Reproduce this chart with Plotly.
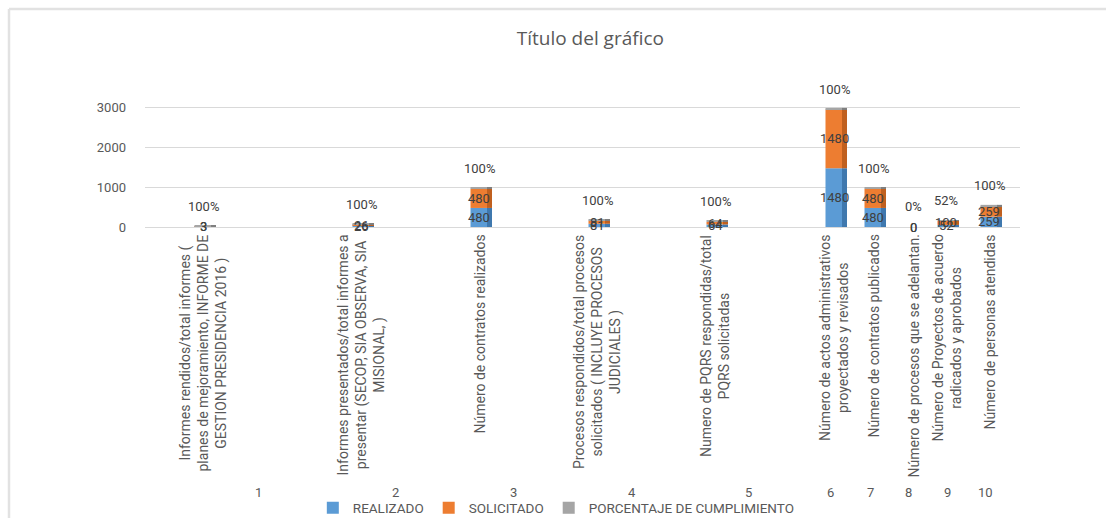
import plotly.graph_objects as go

# ---------------- data ----------------
categories = [
    "Informes rendidos/total informes (<br>planes de mejoramiento, INFORME DE<br>GESTION PRESIDENCIA 2016 )",
    "Informes presentados/total informes a<br>presentar (SECOP, SIA OBSERVA, SIA<br>MISIONAL, )",
    "Número de contratos realizados",
    "Procesos respondidos/total procesos<br>solicitados ( INCLUYE PROCESOS<br>JUDICIALES )",
    "Numero de PQRS respondidas/total<br>PQRS solicitadas",
    "Número de actos administrativos<br>proyectados y revisados",
    "Número de contratos publicados",
    "Número de procesos que se adelantan.",
    "Número de Proyectos de acuerdo<br>radicados y aprobados",
    "Número de personas atendidas",
]
group_labels = ["1", "2", "3", "4", "5", "6", "7", "8", "9", "10"]
realizado = [3, 26, 480, 81, 64, 1480, 480, 0, 52, 259]
solicitado = [3, 26, 480, 81, 64, 1480, 480, 0, 100, 259]
porcentaje = [1.00, 1.00, 1.00, 1.00, 1.00, 1.00, 1.00, 0.00, 0.52, 1.00]
y_ticks = [0, 1000, 2000, 3000]

# ---------------- layout helpers (pixel geometry) ----------------
W, H = 1106, 518
PLOT_L, PLOT_R = 145, 1020
PLOT_T, PLOT_B = 96, 227
Y_MAX = 3300
cat_pos_px = [203, 361, 479, 597, 715, 834, 873, 913, 946, 989]
group_pos_px = [258, 395, 513, 632, 748, 830, 870, 908, 947, 985]
x_pos = [p - PLOT_L for p in cat_pos_px]
FRONT_W = 17
SIDE_W = 5

def px2paper_x(px):
    return (px - PLOT_L) / (PLOT_R - PLOT_L)

def px2paper_y(py):
    return (PLOT_B - py) / (PLOT_B - PLOT_T)

TXT = "#595959"
LBL = "#404040"
BLUE, BLUE_D = "#5b9bd5", "#3f78ae"
ORANGE, ORANGE_D = "#ed7d31", "#c0601f"
GRAY, GRAY_D = "#a5a5a5", "#7f7f7f"

fig = go.Figure()
tot = [r + s for r, s in zip(realizado, solicitado)]
cap = [p * 40 for p in porcentaje]

# front faces
fig.add_trace(go.Bar(x=x_pos, y=realizado, name="REALIZADO", marker_color=BLUE,
                     width=FRONT_W, offset=-FRONT_W / 2, hoverinfo="y"))
fig.add_trace(go.Bar(x=x_pos, y=solicitado, base=realizado, name="SOLICITADO",
                     marker_color=ORANGE, width=FRONT_W, offset=-FRONT_W / 2,
                     hoverinfo="y"))
fig.add_trace(go.Bar(x=x_pos, y=cap, base=tot,
                     name="PORCENTAJE DE CUMPLIMIENTO", marker_color=GRAY,
                     width=FRONT_W, offset=-FRONT_W / 2,
                     customdata=porcentaje, hovertemplate="%{customdata:.0%}<extra></extra>"))
# side faces (3D depth effect)
side_off = FRONT_W / 2 - 0.5
fig.add_trace(go.Bar(x=x_pos, y=realizado, marker_color=BLUE_D, width=SIDE_W,
                     offset=side_off, showlegend=False, hoverinfo="skip"))
fig.add_trace(go.Bar(x=x_pos, y=solicitado, base=realizado, marker_color=ORANGE_D,
                     width=SIDE_W, offset=side_off, showlegend=False, hoverinfo="skip"))
fig.add_trace(go.Bar(x=x_pos, y=cap, base=tot,
                     marker_color=GRAY_D, width=SIDE_W, offset=side_off,
                     showlegend=False, hoverinfo="skip"))

for tr in fig.data:
    tr.marker.line.width = 0

annotations = []
lbl_font = dict(family="Roboto, sans-serif", size=13, color=LBL)
for xp, r, s, p in zip(x_pos, realizado, solicitado, porcentaje):
    annotations.append(dict(x=xp, y=r / 2, xref="x", yref="y", text=str(r),
                            showarrow=False, font=lbl_font, yanchor="middle"))
    annotations.append(dict(x=xp, y=r + s / 2, xref="x", yref="y", text=str(s),
                            showarrow=False, font=lbl_font, yanchor="middle"))
    annotations.append(dict(x=xp, y=r + s, xref="x", yref="y", text=f"{p:.0%}",
                            showarrow=False, font=lbl_font, yanchor="bottom", yshift=11))

cat_font = dict(family="Roboto, sans-serif", size=14, color=TXT)
for xp, c in zip(x_pos, categories):
    annotations.append(dict(x=xp, y=px2paper_y(233), xref="x", yref="paper", text=c,
                            textangle=-90, showarrow=False, font=cat_font,
                            xanchor="center", yanchor="top", align="center"))
for gp, g in zip(group_pos_px, group_labels):
    annotations.append(dict(x=gp - PLOT_L, y=px2paper_y(492), xref="x", yref="paper",
                            text=g, showarrow=False,
                            font=dict(family="Roboto, sans-serif", size=13, color=TXT),
                            xanchor="center", yanchor="middle"))

shapes = [
    dict(type="line", xref="paper", yref="paper",
         x0=px2paper_x(9), x1=px2paper_x(W), y0=px2paper_y(9), y1=px2paper_y(9),
         line=dict(color="#e2e2e2", width=2.5)),
    dict(type="line", xref="paper", yref="paper",
         x0=px2paper_x(9), x1=px2paper_x(9), y0=px2paper_y(9), y1=px2paper_y(H),
         line=dict(color="#e2e2e2", width=2.5)),
]

fig.update_layout(
    width=W, height=H,
    margin=dict(l=PLOT_L, r=W - PLOT_R, t=PLOT_T, b=H - PLOT_B, autoexpand=False),
    paper_bgcolor="white", plot_bgcolor="white",
    barmode="overlay",
    title=dict(text="Título del gráfico", x=0.509, xref="paper", xanchor="center",
               y=1 - 38 / H, yref="container", yanchor="middle",
               font=dict(family="Open Sans, sans-serif", size=19, color=TXT)),
    xaxis=dict(range=[0, PLOT_R - PLOT_L], showgrid=False, zeroline=False,
               showticklabels=False, ticks="", showline=False, fixedrange=True),
    yaxis=dict(range=[0, Y_MAX], tickvals=y_ticks, ticktext=[str(v) for v in y_ticks],
               showgrid=True, gridcolor="#d9d9d9", gridwidth=1, zeroline=True,
               zerolinecolor="#d9d9d9", zerolinewidth=1, showline=False, ticks="",
               ticklabelstandoff=18,
               tickfont=dict(family="Roboto, sans-serif", size=13, color=TXT)),
    legend=dict(orientation="h", xref="container", yref="container",
                x=0.503, xanchor="center", y=10 / H, yanchor="middle",
                font=dict(family="Roboto, sans-serif", size=13.5, color=TXT),
                itemwidth=30, tracegroupgap=0, bgcolor="rgba(0,0,0,0)"),
    annotations=annotations,
    shapes=shapes,
    showlegend=True,
)

fig.write_html("out.html", config={"displayModeBar": False})

# remove default browser body margin so the figure sits at the page origin
with open("out.html", "r", encoding="utf-8") as f:
    html = f.read()
html = html.replace("<head>", "<head><style>html,body{margin:0;padding:0;}</style>", 1)
with open("out.html", "w", encoding="utf-8") as f:
    f.write(html)
